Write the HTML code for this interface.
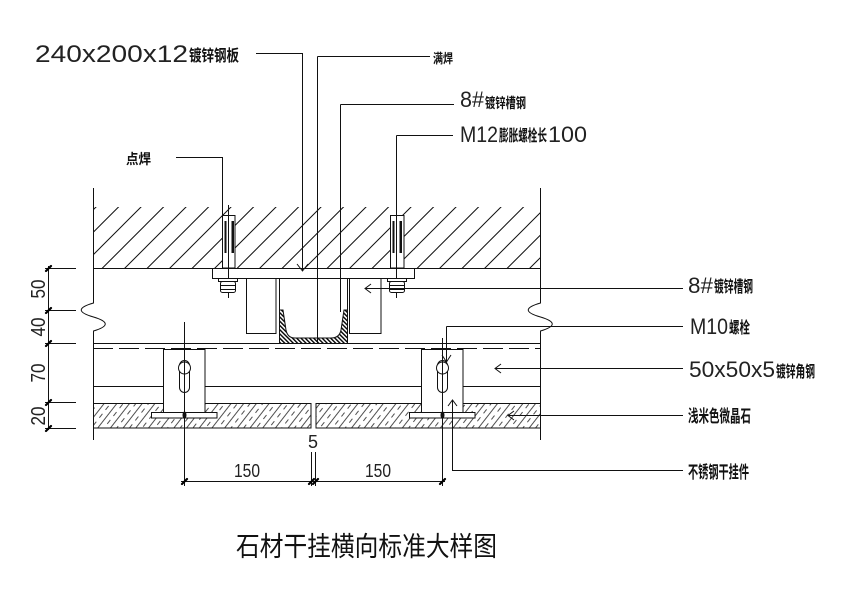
<!DOCTYPE html>
<html><head><meta charset="utf-8">
<style>
html,body{margin:0;padding:0;background:#fff;}
svg{display:block;}
.l{font-family:"Liberation Sans",sans-serif;fill:#222;}
.c{font-family:"Liberation Sans","Noto Sans CJK SC",sans-serif;fill:#111;font-weight:bold;}
.t{font-family:"Liberation Sans","Noto Sans CJK SC",sans-serif;fill:#111;}
</style></head><body>
<svg width="842" height="595" viewBox="0 0 842 595" xmlns="http://www.w3.org/2000/svg">
<defs>
<pattern id="ch" patternUnits="userSpaceOnUse" x="10.5" y="0" width="22.5" height="22.5">
<path d="M0,22.5 L22.5,0 M-3,3 L3,-3 M19.5,25.5 L25.5,19.5" stroke="#111" stroke-width="1" fill="none"/>
</pattern>
<pattern id="st" patternUnits="userSpaceOnUse" width="10" height="20" patternTransform="rotate(38)">
<line x1="0.5" y1="-1" x2="0.5" y2="21" stroke="#222" stroke-width="0.8"/>
<line x1="5.5" y1="3" x2="5.5" y2="8" stroke="#222" stroke-width="0.8"/>
<line x1="5.5" y1="13" x2="5.5" y2="18" stroke="#222" stroke-width="0.8"/>
</pattern>
<pattern id="cc" patternUnits="userSpaceOnUse" width="3" height="3" patternTransform="rotate(-45)">
<line x1="0.7" y1="-1" x2="0.7" y2="4" stroke="#000" stroke-width="1.4"/>
</pattern>
</defs>

<!-- concrete hatch -->
<rect x="93" y="207" width="447" height="61" fill="url(#ch)"/>

<g fill="none" stroke="#111" stroke-width="1">
<path d="M93.5,188 L93.5,303 Q69,310 93.5,317 Q117,324 93.5,331 L93.5,440"/>
<path d="M540.5,188 L540.5,303 Q516,310 540.5,317 Q564,324 540.5,331 L540.5,440"/>
<path d="M93,268.5 H540"/>
<path d="M93,343.5 H540"/>
<path d="M93,348.5 H540" stroke-dasharray="20 6"/>
<path d="M93,386.5 H540"/>
</g>

<!-- stone -->
<rect x="93.5" y="403.5" width="217.5" height="24.5" fill="url(#st)" stroke="#111" stroke-width="1"/>
<rect x="316" y="403.5" width="224.5" height="24.5" fill="url(#st)" stroke="#111" stroke-width="1"/>

<!-- plate -->
<rect x="212.5" y="268.5" width="202" height="10" fill="#fff" stroke="#111"/>

<g fill="#fff" stroke="#111" stroke-width="1">
<rect x="246.5" y="278.5" width="29.5" height="55"/>
<rect x="349.5" y="278.5" width="31.5" height="55"/>
</g>
<g stroke="#111" fill="none">
<path d="M279.5,278.5 V310"/>
<path d="M347.5,278.5 V310"/>
</g>
<path d="M279.5,310 L283,310 L286,330 Q287.5,338 295,338 L331,338 Q339.5,338 341,330 L344,310 L347.5,310 L347.5,343.5 L279.5,343.5 Z" fill="url(#cc)" stroke="#111" stroke-width="1"/>

<!-- anchors -->
<g stroke="#111" stroke-width="1">
<rect x="222.5" y="215.5" width="12.5" height="52.5" fill="#fff"/>
<rect x="224.5" y="221" width="2" height="32" fill="#111" stroke="none"/>
<rect x="231.5" y="221" width="2.5" height="32" fill="#111" stroke="none"/>
<path d="M228.5,205 V298" fill="none"/>
<rect x="218.5" y="278.5" width="19" height="3" fill="#fff"/>
<rect x="220.5" y="281.5" width="15" height="11" rx="2" fill="#fff"/>
<path d="M220.5,285.5 H235.5 M220.5,289.5 H235.5" fill="none"/>

<rect x="390.5" y="215.5" width="13.5" height="52.5" fill="#fff"/>
<rect x="392.5" y="221" width="2" height="32" fill="#111" stroke="none"/>
<rect x="399.5" y="221" width="2.5" height="32" fill="#111" stroke="none"/>
<path d="M396.5,205 V298" fill="none"/>
<rect x="387.5" y="278.5" width="19" height="3" fill="#fff"/>
<rect x="389.5" y="281.5" width="15" height="11" rx="2" fill="#fff"/>
<path d="M389.5,285.5 H404.5 M389.5,289.5 H404.5" fill="none"/>
</g>

<!-- hangers -->
<g stroke="#111" stroke-width="1" fill="#fff">
<rect x="163.5" y="349.5" width="41.5" height="63"/>
<rect x="151.5" y="412.5" width="65.5" height="5.5"/>
<rect x="179.5" y="360.5" width="10" height="32" rx="5"/>
<circle cx="184.5" cy="368" r="6"/>
<ellipse cx="184.5" cy="415" rx="1.5" ry="3" fill="#111"/>

<rect x="421.5" y="349.5" width="41.5" height="63"/>
<rect x="409.5" y="412.5" width="65.5" height="5.5"/>
<rect x="437.5" y="360.5" width="10" height="32" rx="5"/>
<circle cx="442.5" cy="368" r="6"/>
<ellipse cx="442.5" cy="415" rx="1.5" ry="3" fill="#111"/>
</g>

<!-- leaders -->
<g fill="none" stroke="#111" stroke-width="1">
<path d="M256,53.5 H302.5 V271"/>
<path d="M297,264 L302.5,271 L308,264"/>
<path d="M317.5,56.5 H430 M317.5,56.5 V343"/>
<path d="M340.5,104.5 H454 M340.5,104.5 V312"/>
<path d="M396.5,135.5 H453 M396.5,135.5 V215"/>
<path d="M176,157.5 H222.5 V215"/>

<path d="M365,288.5 H683"/>
<path d="M371,284 L365,288.5 L371,293"/>
<path d="M446.5,326.5 H683 M446.5,326.5 V362"/>
<path d="M442,355 L446.5,362 L451,355"/>
<path d="M495,368.5 H683"/>
<path d="M501,364 L495,368.5 L501,373"/>
<path d="M508,415.5 H683"/>
<path d="M514,411 L508,415.5 L514,420"/>
<path d="M452.5,400 V470.5 H683"/>
<path d="M448,406 L452.5,400 L457,406"/>

<path d="M184.5,322 V486"/>
<path d="M442.5,338 V486"/>
<path d="M311.5,452 V486"/>
<path d="M315.5,452 V486"/>
<path d="M181,481.5 H445"/>
<path d="M48.5,266 V430"/>
<path d="M45,268.5 H76 M45,310.5 H76 M45,343.5 H76 M45,402.5 H76 M45,428.5 H76"/>
</g>
<g stroke="#000" stroke-width="2.2" stroke-linecap="round">
<path d="M182,484 L187,479 M309,484 L314,479 M313,484 L318,479 M440,484 L445,479"/>
<path d="M46,271 L51,266 M46,313 L51,308 M46,346 L51,341 M46,405 L51,400 M46,431 L51,426"/>
</g>

<!-- top labels -->
<text class="l" x="35" y="62" font-size="24" textLength="153" lengthAdjust="spacingAndGlyphs">240x200x12</text>
<text class="c" x="189" y="61" font-size="16" textLength="50" lengthAdjust="spacingAndGlyphs">镀锌钢板</text>
<text class="c" x="433" y="63" font-size="13" textLength="20" lengthAdjust="spacingAndGlyphs">满焊</text>
<text class="l" x="460" y="107" font-size="22" textLength="24" lengthAdjust="spacingAndGlyphs">8#</text>
<text class="c" x="485" y="108" font-size="14" textLength="41" lengthAdjust="spacingAndGlyphs">镀锌槽钢</text>
<text class="l" x="460" y="142" font-size="22" textLength="38" lengthAdjust="spacingAndGlyphs">M12</text>
<text class="c" x="499" y="141" font-size="16" textLength="48" lengthAdjust="spacingAndGlyphs">膨胀螺栓长</text>
<text class="l" x="548" y="142" font-size="22" textLength="39" lengthAdjust="spacingAndGlyphs">100</text>
<text class="c" x="126" y="164" font-size="14" textLength="25" lengthAdjust="spacingAndGlyphs">点焊</text>

<!-- right labels -->
<text class="l" x="688" y="293" font-size="22" textLength="25" lengthAdjust="spacingAndGlyphs">8#</text>
<text class="c" x="714" y="292" font-size="16" textLength="39" lengthAdjust="spacingAndGlyphs">镀锌槽钢</text>
<text class="l" x="690" y="334" font-size="22" textLength="38" lengthAdjust="spacingAndGlyphs">M10</text>
<text class="c" x="729" y="333" font-size="16" textLength="21" lengthAdjust="spacingAndGlyphs">螺栓</text>
<text class="l" x="689" y="377" font-size="22" textLength="86" lengthAdjust="spacingAndGlyphs">50x50x5</text>
<text class="c" x="776" y="377" font-size="16" textLength="39" lengthAdjust="spacingAndGlyphs">镀锌角钢</text>
<text class="c" x="688" y="422" font-size="17" textLength="63" lengthAdjust="spacingAndGlyphs">浅米色微晶石</text>
<text class="c" x="688" y="478" font-size="17" textLength="61" lengthAdjust="spacingAndGlyphs">不锈钢干挂件</text>

<!-- dims text -->
<text class="l" font-size="20" text-anchor="middle" transform="translate(45,289) rotate(-90)" textLength="19" lengthAdjust="spacingAndGlyphs">50</text>
<text class="l" font-size="20" text-anchor="middle" transform="translate(45,327) rotate(-90)" textLength="19" lengthAdjust="spacingAndGlyphs">40</text>
<text class="l" font-size="20" text-anchor="middle" transform="translate(45,373) rotate(-90)" textLength="19" lengthAdjust="spacingAndGlyphs">70</text>
<text class="l" font-size="20" text-anchor="middle" transform="translate(45,416) rotate(-90)" textLength="19" lengthAdjust="spacingAndGlyphs">20</text>
<text class="l" x="234" y="477" font-size="18" textLength="26" lengthAdjust="spacingAndGlyphs">150</text>
<text class="l" x="365" y="477" font-size="18" textLength="26" lengthAdjust="spacingAndGlyphs">150</text>
<text class="l" x="308" y="448" font-size="18" textLength="10" lengthAdjust="spacingAndGlyphs">5</text>

<!-- title -->
<text class="t" x="236" y="556" font-size="27" textLength="261" lengthAdjust="spacingAndGlyphs">石材干挂横向标准大样图</text>
</svg>
</body></html>
